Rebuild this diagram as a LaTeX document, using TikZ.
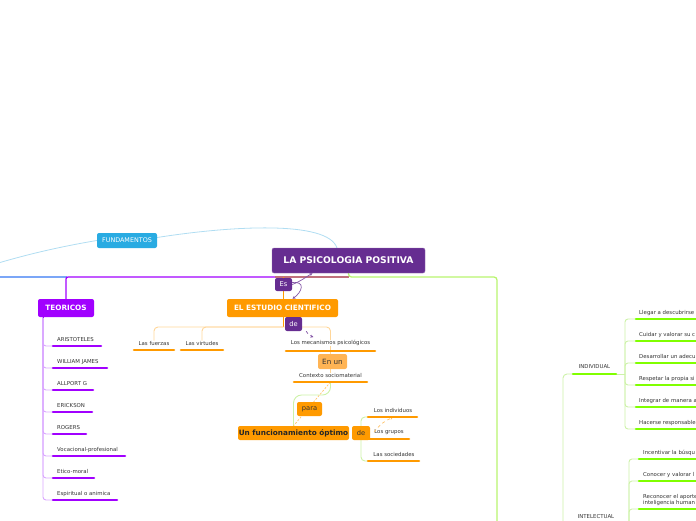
\documentclass[tikz,border=0pt]{standalone}
\usepackage{fontspec}
\setmainfont{DejaVu Sans}
\usetikzlibrary{positioning, arrows.meta, backgrounds}
\definecolor{rootpurple}{HTML}{662D91}
\definecolor{teovio}{HTML}{A100FF}
\definecolor{teolight}{HTML}{D9A6FF}
\definecolor{estorange}{HTML}{FF9A00}
\definecolor{orlight}{HTML}{FFD699}
\definecolor{enunorange}{HTML}{FFB454}
\definecolor{fundblue}{HTML}{29ABE2}
\definecolor{fundlight}{HTML}{B0DDF2}
\definecolor{leftblue}{HTML}{7BA6F7}
\definecolor{mauve}{HTML}{C0717C}
\definecolor{grline}{HTML}{B8F56E}
\definecolor{grbar}{HTML}{80FF00}
\definecolor{grlight}{HTML}{CDF2A8}
\definecolor{leaftext}{HTML}{333333}

\tikzset{
  box/.style={rounded corners=2pt, inner sep=0pt, align=center},
  mainbox/.style={box, text=white, font=\bfseries\fontsize{7.3}{8}\selectfont},
  linkbox/.style={box, font=\fontsize{6.7}{7.5}\selectfont},
  leaf/.style={inner sep=0pt, text=leaftext, font=\fontsize{5.4}{6.6}\selectfont},
  leafbar/.style={line width=2.6pt, line cap=round},
  branch/.style={line width=1.3pt},
  rel/.style={draw=rootpurple!80, line width=0.7pt, -{Stealth[length=3pt, width=3pt]}},
}

\begin{document}
\begin{tikzpicture}[x=1pt, y=-1pt]
  \useasboundingbox (0,0) rectangle (696,520);
  \clip (0,0) rectangle (696,520);

  % main topics
  \node[mainbox, fill=rootpurple, draw=rootpurple!70!white, minimum width=153pt, minimum height=25pt,
        font=\bfseries\fontsize{9.2}{10}\selectfont] (root) at (348.5,260.5) {LA PSICOLOGIA POSITIVA};
  \node[box, fill=fundblue, text=white, minimum width=60pt, minimum height=15pt,
        font=\fontsize{6.4}{7}\selectfont] (fund) at (127,240.5) {FUNDAMENTOS};
  \node[mainbox, fill=teovio, minimum width=56pt, minimum height=18pt] (teoricos) at (66,308) {TEORICOS};
  \node[mainbox, fill=estorange, minimum width=111pt, minimum height=18pt] (estudio) at (282.5,308) {EL ESTUDIO CIENTIFICO};
  \node[linkbox, fill=rootpurple, text=white, minimum width=17pt, minimum height=13pt] (es) at (283.5,284.5) {Es};
  \node[linkbox, fill=rootpurple, text=white, minimum width=17pt, minimum height=14pt] (de1) at (293.5,324) {de};

  % estudio cientifico
  \node[leaf] (fuerzas) at (154,343) {Las fuerzas};
  \node[leaf] (virtudes) at (202,343) {Las virtudes};
  \node[leaf] (mecan) at (330.5,343) {Los mecanismos psicológicos};
  \node[linkbox, fill=enunorange, text=leaftext, minimum width=29pt, minimum height=15pt,
        font=\fontsize{7.2}{8}\selectfont] (enun) at (332.5,361.5) {En un};
  \node[leaf] (contexto) at (330.5,375) {Contexto sociomaterial};
  \node[linkbox, fill=estorange, text=leaftext, minimum width=25pt, minimum height=14pt] (para) at (309.5,409) {para};
  \node[mainbox, fill=estorange, text=black!85, minimum width=111pt, minimum height=14pt] (optimo) at (293.5,433) {Un funcionamiento óptimo};
  \node[linkbox, fill=estorange, text=leaftext, minimum width=18pt, minimum height=14pt] (de2) at (361,433) {de};
  \node[leaf] (indiv) at (393,410) {Los individuos};
  \node[leaf] (grupos) at (389,432) {Los grupos};
  \node[leaf] (socied) at (394,454) {Las sociedades};

  \coordinate (hubL) at (275,277);
  \coordinate (hub) at (348.5,277);
  \coordinate (esjoin) at (283,277);
  \coordinate (estjoin) at (283,327);
  \coordinate (ctxbar) at (330.5,382);
  \coordinate (ctxbend) at (293.5,395);
  \coordinate (indivbar) at (368,417);
  \coordinate (grupbar) at (368,439);
  \coordinate (socbar) at (368,461);
  \coordinate (fundin) at (-5,264);
  \coordinate (roottop) at (337,248);

  \begin{scope}[on background layer]
    % branches from the root
    \draw[leftblue, branch] (-10,277) -- (67,277);
    \draw[teovio, branch, rounded corners=2pt] (hubL) -| (teoricos.north);
    \draw[mauve, branch] (hubL) -- (hub);
    \draw[grline, branch, rounded corners=3pt] (root.south) -- (hub) -- (497,277) -- (497,530);
    \draw[estorange, line width=1pt] (esjoin) -- (estudio.north -| esjoin);
    \draw[fundlight, line width=0.8pt] (fundin) .. controls (35,252) and (70,245) .. (fund.west);
    \draw[fundlight, line width=0.8pt] ([yshift=3pt]fund.east) .. controls (230,226) and (328,220) .. (roottop);
    % estudio cientifico
    \draw[estorange, line width=1pt] (estudio.south -| estjoin) -- (estjoin);
    \draw[orlight, line width=0.9pt, rounded corners=4pt] (fuerzas.north) |- (estjoin) -| (mecan.north);
    \draw[orlight, line width=0.9pt, rounded corners=4pt] (virtudes.north) |- (estjoin);
    \draw[orlight, line width=0.9pt] (mecan.south) -- (contexto.north);
    \draw[grlight, line width=0.9pt, rounded corners=8pt] (ctxbar) |- (ctxbend) -- (optimo.north);
    \draw[orlight!70!estorange, line width=0.7pt, dash pattern=on 2pt off 1.5pt] (ctxbar) -- (optimo.north);
    \draw[grlight, line width=0.9pt, rounded corners=4pt] (indivbar) -| (de2.center) |- (socbar);
    \draw[grlight, line width=0.9pt] (de2.center) -- (grupbar);
  \end{scope}

  % relations
  \draw[rel] (es.east) to[out=20, in=-150] ([xshift=-36pt]root.south);
  \draw[rel] ([yshift=2pt]es.east) .. controls (306,281) and (302,292) .. ([xshift=10pt]estudio.north);
  \draw[rel, dashed] ([xshift=4pt]de1.south east) to[bend right=20] ([xshift=-17pt, yshift=3pt]mecan.north);
  \draw[estorange!60, line width=0.7pt, dashed, -{Stealth[length=3pt, width=3pt]}] (grupos.west) to[bend left=15] ([yshift=-5pt]indiv.south);

  % orange bars
  \draw[leafbar, estorange] (134,350) -- (174,350);
  \draw[leafbar, estorange] (181,350) -- (223,350);
  \draw[leafbar, estorange] (286,351) -- (375,351);
  \draw[leafbar, estorange] (294,382) -- (367,382);
  \draw[leafbar, estorange] (indivbar) -- (417,417);
  \draw[leafbar, estorange] (grupbar) -- (409,439);
  \draw[leafbar, estorange] (socbar) -- (419,461);

  % teoricos
  \coordinate (teotrunk) at (43,317);
  \foreach \lbl/\len [count=\i from 0] in {ARISTOTELES/101, WILLIAM JAMES/107, ALLPORT G/93, ERICKSON/92,
      ROGERS/86, Vocacional-profesional/125, Etico-moral/94, Espiritual o animica/117}{
    \coordinate (teo\i) at (53,346+22*\i);
    \draw[teolight, line width=0.9pt, rounded corners=3pt] (teotrunk) |- (teo\i);
    \node[leaf, anchor=base west] (teolab\i) at (57,341+22*\i) {\lbl};
    \draw[leafbar, teovio] (teo\i) -- (\len,346+22*\i);
  }
  \draw[teovio, line width=1pt] (teoricos.south -| teotrunk) -- (teotrunk);

  % individual
  \node[leaf] (individual) at (594.5,367) {INDIVIDUAL};
  \coordinate (individualstart) at (573,374);
  \coordinate (individualend) at (616,374);
  \coordinate (indtrunk) at (625,374);
  \draw[grlight, line width=0.9pt, rounded corners=4pt] (563,530) |- (individualstart);
  \draw[grlight, line width=0.9pt] (individualend) -- (indtrunk);
  \draw[leafbar, grbar] (individualstart) -- (individualend);
  \foreach \lbl [count=\i from 0] in {Llegar a descubrirse, Cuidar y valorar su c, Desarrollar un adecu,
      Respetar la propia si, Integrar de manera a, Hacerse responsable}{
    \coordinate (ind\i) at (636,319+22*\i);
    \draw[grlight, line width=0.9pt, rounded corners=3pt] (indtrunk) |- (ind\i);
    \node[leaf, anchor=base west] (indlab\i) at (639,314+22*\i) {\lbl};
    \draw[leafbar, grbar] (ind\i) -- (705,319+22*\i);
  }

  % intelectual
  \node[leaf] (intelectual) at (596,517) {INTELECTUAL};
  \coordinate (inttrunk) at (629,530);
  \foreach \yy/\lbl [count=\i from 0] in {459/Incentivar la búsqu, 481/Conocer y valorar l}{
    \coordinate (int\i) at (639,\yy);
    \draw[grlight, line width=0.9pt, rounded corners=3pt] (inttrunk) |- (int\i);
    \node[leaf, anchor=base west] (intlab\i) at (643,\yy-5) {\lbl};
    \draw[leafbar, grbar] (int\i) -- (705,\yy);
  }
  \coordinate (int2) at (639,509);
  \draw[grlight, line width=0.9pt, rounded corners=3pt] (inttrunk) |- (int2);
  \node[leaf, anchor=south west, align=left] (intlab2) at (643,506) {Reconocer el aporte\\inteligencia human};
  \draw[leafbar, grbar] (int2) -- (705,509);
\end{tikzpicture}
\end{document}
